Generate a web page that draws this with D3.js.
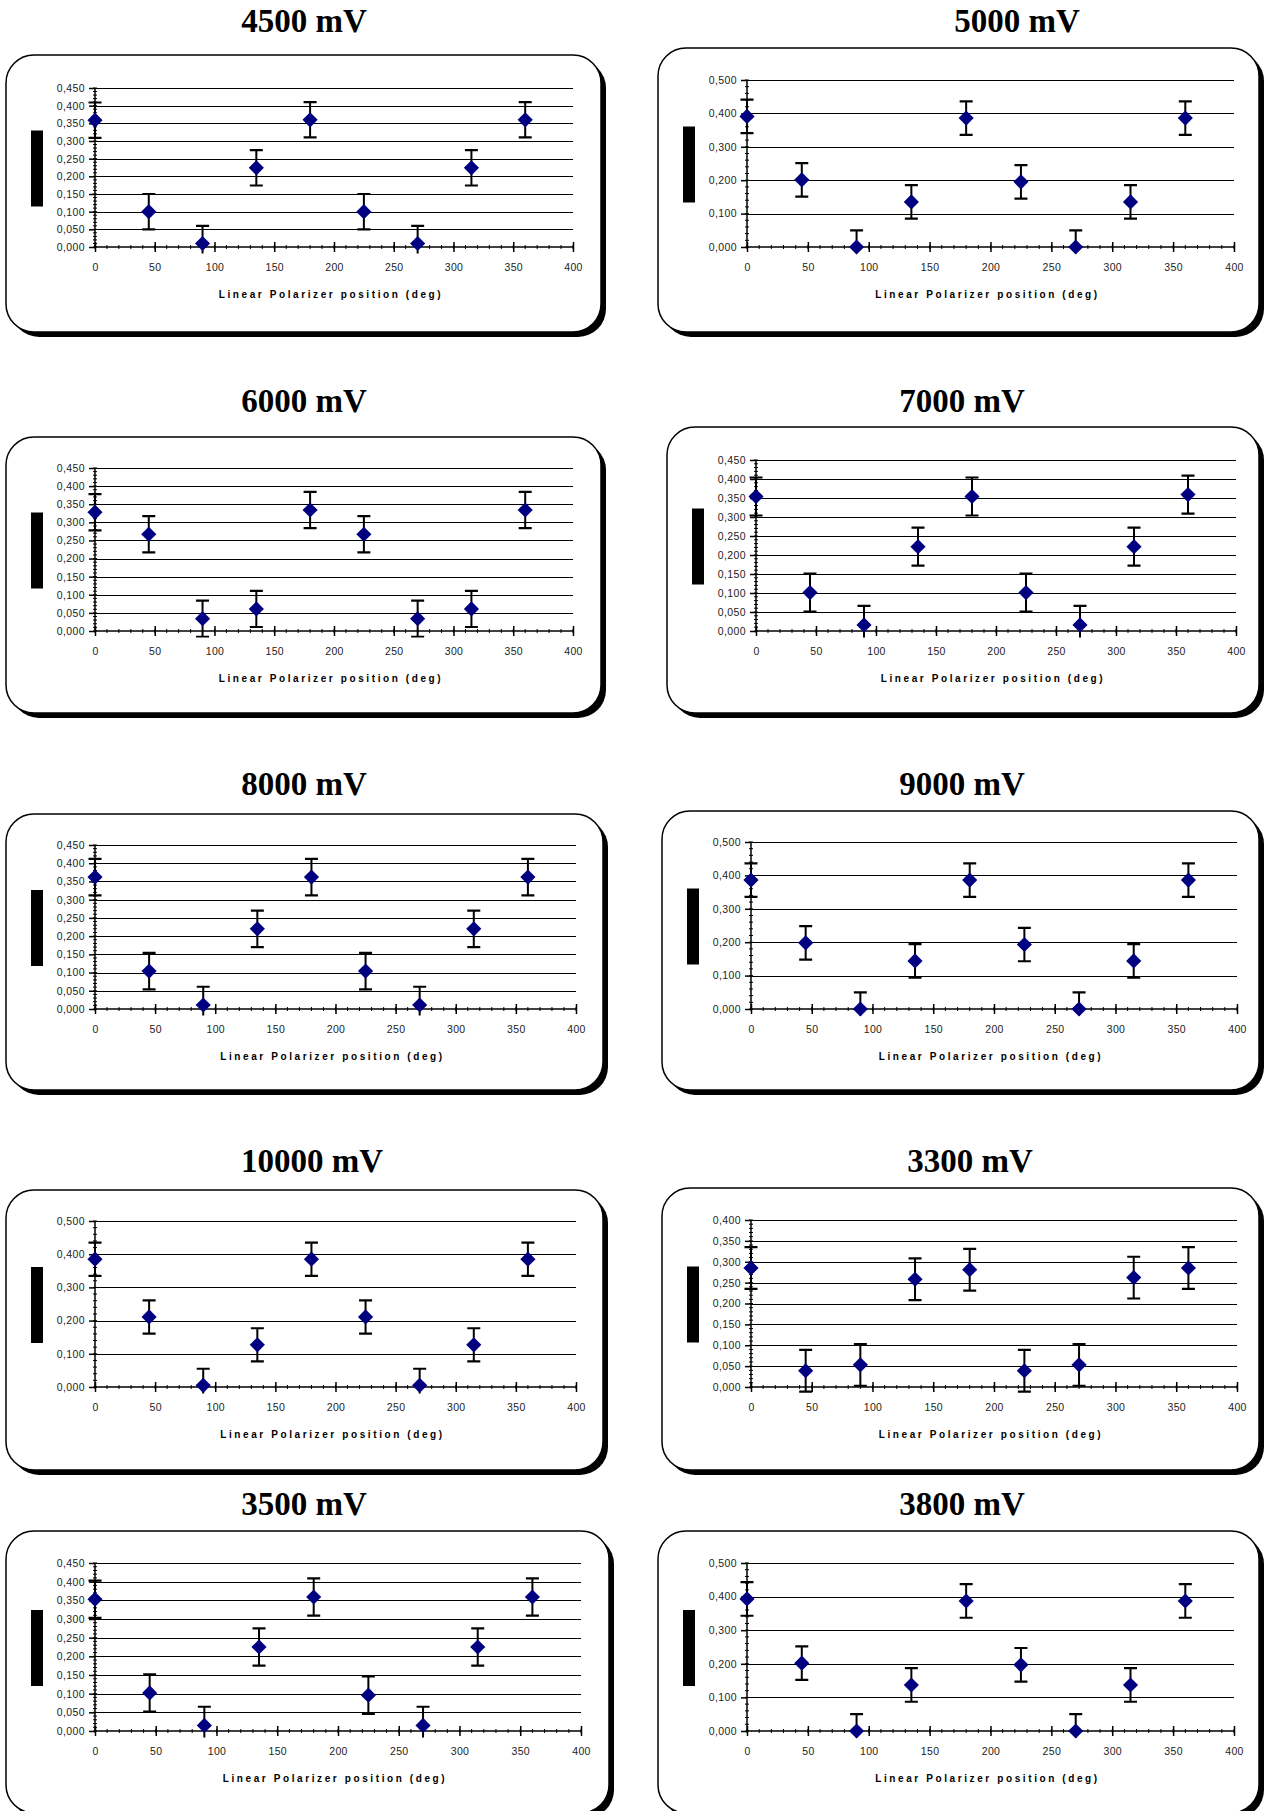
<!DOCTYPE html>
<html>
<head>
<meta charset="utf-8">
<script src="https://cdn.jsdelivr.net/npm/d3@7"></script>
<style>
  body { margin: 0; background: #fff; }
  svg { display: block; }
</style>
</head>
<body>
<div id="chart"></div>
<script>
// polarizer angles, same for every panel
var angles = [0, 45, 90, 135, 180, 225, 270, 315, 360]
var xMax = 400

var titles = ["4500 mV", "5000 mV", "6000 mV", "7000 mV", "8000 mV",
              "9000 mV", "10000 mV", "3300 mV", "3500 mV", "3800 mV"]
var yMaxes = [0.45, 0.5, 0.45, 0.45, 0.45, 0.5, 0.5, 0.4, 0.45, 0.5]
var ySteps = [0.05, 0.1, 0.05, 0.05, 0.05, 0.1, 0.1, 0.05, 0.05, 0.1]
var errAmount = [0.05, 0.05, 0.05, 0.05, 0.05, 0.05, 0.05, 0.05, 0.05, 0.05]

var v4500  = [0.359, 0.100, 0.010, 0.224, 0.360, 0.100, 0.010, 0.224, 0.360]
var v5000  = [0.391, 0.201, 0.000, 0.135, 0.386, 0.195, 0.000, 0.135, 0.386]
var v6000  = [0.328, 0.267, 0.034, 0.061, 0.334, 0.267, 0.034, 0.061, 0.334]
var v7000  = [0.354, 0.101, 0.016, 0.222, 0.354, 0.101, 0.016, 0.222, 0.359]
var v8000  = [0.362, 0.104, 0.011, 0.220, 0.362, 0.104, 0.011, 0.220, 0.362]
var v9000  = [0.386, 0.198, 0.000, 0.144, 0.386, 0.193, 0.000, 0.144, 0.386]
var v10000 = [0.385, 0.211, 0.005, 0.127, 0.385, 0.211, 0.005, 0.127, 0.385]
var v3300  = [0.285, 0.039, 0.053, 0.258, 0.281, 0.039, 0.053, 0.262, 0.285]
var v3500  = [0.353, 0.102, 0.015, 0.225, 0.359, 0.096, 0.015, 0.225, 0.359]
var v3800  = [0.393, 0.202, 0.000, 0.137, 0.387, 0.197, 0.000, 0.137, 0.387]
var series = [v4500, v5000, v6000, v7000, v8000, v9000, v10000, v3300, v3500, v3800]

// page layout (pixels)
var boxes = [
  [6, 55, 595, 277], [658, 48, 601, 284],
  [6, 437, 595, 276], [667, 427, 592, 286],
  [6, 814, 597, 276], [662, 811, 597, 279],
  [6, 1190, 597, 280], [662, 1188, 597, 282],
  [6, 1531, 603, 282], [658, 1531, 601, 282]
]
// [axis x, x at 400, y at top, y at 0]
var plots = [
  [95, 573, 88, 247], [747, 1234, 80, 247],
  [95, 573, 468, 631], [756, 1236, 460, 631],
  [95, 576, 845, 1009], [751, 1237, 842, 1009],
  [95, 576, 1221, 1387], [751, 1237, 1220, 1387],
  [95, 581, 1563, 1731], [747, 1234, 1563, 1731]
]
var titlePos = [
  [304, 32], [1017, 32], [304, 412], [962, 412], [304, 795],
  [962, 795], [312, 1172], [970, 1172], [304, 1515], [962, 1515]
]

const W = 1265, H = 1811
var fmt = d3.formatLocale({decimal: ",", thousands: ".", grouping: [3], currency: ["", ""]}).format(".3f")

var svg = d3.select("#chart").append("svg")
    .attr("width", W).attr("height", H)

var defs = svg.append("defs")

function drawPanel(i) {
    var b = boxes[i], p = plots[i]
    var g = svg.append("g")

    // title
    g.append("text")
        .attr("x", titlePos[i][0]).attr("y", titlePos[i][1])
        .attr("text-anchor", "middle")
        .style("font-family", "'Liberation Serif', 'Times New Roman', serif")
        .style("font-weight", "bold")
        .style("font-size", "33px")
        .text(titles[i])

    // shadow + rounded frame
    g.append("rect")
        .attr("x", b[0] + 5).attr("y", b[1] + 5)
        .attr("width", b[2]).attr("height", b[3])
        .attr("rx", 28).attr("ry", 28)
        .style("fill", "#000")
    g.append("rect")
        .attr("x", b[0]).attr("y", b[1])
        .attr("width", b[2]).attr("height", b[3])
        .attr("rx", 28).attr("ry", 28)
        .style("fill", "#fff")
        .style("stroke", "#000")
        .style("stroke-width", "1.5px")

    var x = d3.scaleLinear().domain([0, xMax]).range([p[0], p[1]])
    var y = d3.scaleLinear().domain([0, yMaxes[i]]).range([p[3], p[2]])

    var step = ySteps[i]
    var yTicks = d3.range(0, yMaxes[i] + step / 2, step)
    var yMinor = d3.range(0, yMaxes[i] + 1e-9, step / 5)

    // gridlines
    g.selectAll(".grid")
        .data(yTicks.slice(1))
        .enter()
        .append("line")
        .attr("x1", p[0]).attr("x2", p[1])
        .attr("y1", d => Math.round(y(d)) + 0.5)
        .attr("y2", d => Math.round(y(d)) + 0.5)
        .style("stroke", "#000")
        .style("stroke-width", "1px")

    // y axis
    var yAxis = d3.axisLeft(y).tickValues(yTicks).tickSize(6).tickPadding(4).tickFormat(fmt)
    var ya = g.append("g").attr("transform", "translate(" + p[0] + ",0)").call(yAxis)
    ya.select(".domain").remove()
    ya.selectAll("line").style("stroke", "#000").style("stroke-width", "1.5px")
    ya.selectAll("text")
        .style("font-family", "'Liberation Sans', Arial, sans-serif")
        .style("font-size", "10.5px")
        .style("letter-spacing", "0.4px")
        .style("fill", "#222")
    g.selectAll(".ymin")
        .data(yMinor)
        .enter()
        .append("line")
        .attr("x1", p[0] - 2).attr("x2", p[0] + 2)
        .attr("y1", d => y(d)).attr("y2", d => y(d))
        .style("stroke", "#000").style("stroke-width", "1px")
    g.append("line")
        .attr("x1", p[0]).attr("x2", p[0])
        .attr("y1", p[2]).attr("y2", p[3])
        .style("stroke", "#000").style("stroke-width", "1.5px")

    // x axis
    var xAxis = d3.axisBottom(x).tickValues(d3.range(0, xMax + 1, 50)).tickSize(5).tickPadding(12)
    var xa = g.append("g").attr("transform", "translate(0," + p[3] + ")").call(xAxis)
    xa.select(".domain").remove()
    xa.selectAll("line").attr("y1", -5).style("stroke", "#000").style("stroke-width", "1.5px")
    xa.selectAll("text")
        .style("font-family", "'Liberation Sans', Arial, sans-serif")
        .style("font-size", "10.5px")
        .style("letter-spacing", "0.4px")
        .style("fill", "#222")
    g.selectAll(".xmin")
        .data(d3.range(0, xMax + 1, 10))
        .enter()
        .append("line")
        .attr("x1", d => x(d)).attr("x2", d => x(d))
        .attr("y1", p[3] - 2).attr("y2", p[3] + 2)
        .style("stroke", "#000").style("stroke-width", "1px")
    g.append("line")
        .attr("x1", p[0]).attr("x2", p[1])
        .attr("y1", p[3]).attr("y2", p[3])
        .style("stroke", "#000").style("stroke-width", "1.5px")

    // axis title
    g.append("text")
        .attr("x", (p[0] + p[1]) / 2 - 3).attr("y", p[3] + 51)
        .attr("text-anchor", "middle")
        .style("font-family", "'Liberation Sans', Arial, sans-serif")
        .style("font-size", "10px")
        .style("font-weight", "bold")
        .style("letter-spacing", "2.6px")
        .text("Linear Polarizer position (deg)")

    // black block where the y title used to be
    var midY = (p[2] + p[3]) / 2
    g.append("rect")
        .attr("x", p[0] - 64).attr("y", midY - 37)
        .attr("width", 12).attr("height", 76)
        .style("fill", "#000")

    // error bars, clipped a little under the axis
    defs.append("clipPath").attr("id", "clip" + i)
        .append("rect")
        .attr("x", p[0] - 20).attr("y", p[2] - 20)
        .attr("width", p[1] - p[0] + 40).attr("height", p[3] - p[2] + 26.5)
    var pts = angles.map((a, k) => ({a: a, v: series[i][k], e: errAmount[i]}))
    var eb = g.append("g").attr("clip-path", "url(#clip" + i + ")")
    eb.selectAll(".bar")
        .data(pts)
        .enter()
        .append("line")
        .attr("x1", d => x(d.a)).attr("x2", d => x(d.a))
        .attr("y1", d => y(d.v + d.e)).attr("y2", d => y(d.v - d.e))
        .style("stroke", "#000").style("stroke-width", "2px")
    var caps = []
    pts.forEach(d => { caps.push({a: d.a, v: d.v + d.e}); caps.push({a: d.a, v: d.v - d.e}) })
    eb.selectAll(".cap")
        .data(caps)
        .enter()
        .append("line")
        .attr("x1", d => x(d.a) - 6.5).attr("x2", d => x(d.a) + 6.5)
        .attr("y1", d => y(d.v)).attr("y2", d => y(d.v))
        .style("stroke", "#000").style("stroke-width", "2.2px")

    // diamond markers
    g.selectAll(".pt")
        .data(pts)
        .enter()
        .append("path")
        .attr("d", d3.symbol(d3.symbolSquare, 115))
        .attr("transform", d => "translate(" + x(d.a) + "," + y(d.v) + ") rotate(45)")
        .style("fill", "#000080")
}

for (var i = 0; i < titles.length; i++) {
    drawPanel(i)
}
</script>
</body>
</html>
